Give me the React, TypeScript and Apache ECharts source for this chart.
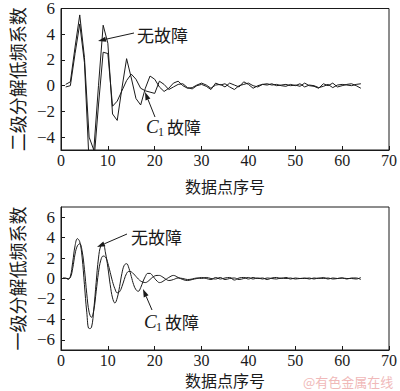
import React, { useEffect, useRef } from "react";
import * as echarts from "echarts";

// ---- data ----
const TOP_X = Array.from({ length: 64 }, (_, i) => i + 1);
const TOP_NO_FAULT = [
  0.1, 0.3, 3.0, 5.5, 2.2, -4.0, -5.0, 0.0, 4.7, 3.3,
  -2.2, -2.7, -0.2, 2.1, 0.6, -1.0, -1.5, -0.2, 0.75, 0.5,
  -0.1, -0.45, -0.2, 0.2, 0.35, 0.0, -0.2, -0.15, 0.05, 0.2,
  0.05, -0.2, 0.05, 0.1, -0.1, 0.2, 0.05, -0.1, 0.3, 0.1,
  -0.2, 0.0, 0.1, 0.05, 0.15, 0.0, 0.05, 0.1, 0.0, 0.05,
  -0.05, 0.2, 0.0, -0.05, -0.2, 0.15, 0.0, 0.2, -0.1, 0.0,
  0.1, 0.15, 0.0, -0.2,
];
const TOP_C1 = [
  -0.1, 0.0, 2.5, 4.8, 1.8, -6.0, -6.0, -1.5, 2.6, 2.5,
  -1.6, -1.2, -0.4, 0.4, 0.9, 0.5, -0.2, -0.4, -0.5, -0.6,
  0.35, 0.1, -0.3, -0.1, 0.1, 0.15, -0.15, -0.25, 0.0, 0.1,
  -0.05, -0.3, 0.2, 0.05, 0.15, -0.1, -0.3, 0.0, 0.1, 0.2,
  0.0, -0.1, 0.1, 0.15, 0.05, 0.1, 0.0, -0.05, 0.1, 0.0,
  0.15, -0.1, 0.05, 0.0, -0.15, -0.05, 0.1, -0.15, 0.05, 0.1,
  0.05, 0.0, 0.1, 0.15,
];

const BOTTOM_X = [
  0.5, 1, 1.5, 2, 2.5, 3, 3.5, 4, 4.5, 5, 5.5, 6, 6.5, 7, 7.5, 8, 8.5, 9, 9.5, 10,
  10.5, 11, 11.5, 12, 12.5, 13, 13.5, 14, 14.5, 15, 15.5, 16, 16.5, 17, 17.5, 18,
  18.5, 19, 19.5, 20, 20.5, 21, 21.5, 22, 22.5,
  23, 24, 25, 26, 27, 28, 29, 30, 31, 32, 33, 34, 35, 36, 37, 38, 39, 40, 41, 42,
  43, 44, 45, 46, 47, 48, 49, 50, 51, 52, 53, 54, 55, 56, 57, 58, 59, 60, 61, 62, 63, 64,
];
const BOTTOM_NO_FAULT = [
  0.0, 0.05, -0.1, 0.2, 1.6, 3.2, 3.9, 3.6, 2.1, -0.6, -3.3, -4.9, -4.8, -3.0, -0.4,
  2.0, 3.2, 3.3, 2.5, 1.1, -0.6, -1.9, -2.4, -1.9, -0.8, 0.5, 1.3, 1.45, 1.0, 0.2,
  -0.6, -1.1, -1.25, -0.9, -0.3, 0.2, 0.5, 0.5, 0.3, 0.0, -0.25, -0.4, -0.35, -0.2, -0.05,
  0.1, 0.3, 0.1, -0.1, -0.2, -0.1, 0.0, 0.1, 0.0, -0.1, 0.1, -0.05, 0.05, 0.1, -0.15,
  0.05, 0.1, -0.05, 0.1, 0.0, 0.05, -0.1, 0.05, 0.1, 0.0, 0.1, -0.05, 0.05, 0.0, 0.05,
  -0.05, 0.05, 0.0, 0.1, -0.05, 0.05, 0.0, 0.05, -0.05, 0.05, 0.05, -0.1,
];
const BOTTOM_C1 = [
  0.1, 0.0, 0.0, 0.1, 1.0, 2.4, 3.2, 3.4, 2.7, 0.9, -1.5, -3.3, -3.8, -3.1, -1.3,
  0.6, 1.8, 2.2, 2.1, 1.5, 0.6, -0.3, -1.0, -1.4, -1.3, -0.8, -0.1, 0.5, 0.7, 0.65,
  0.45, 0.2, -0.05, -0.25, -0.35, -0.4, -0.3, -0.1, 0.1, 0.25, 0.3, 0.3, 0.2, 0.05, -0.1,
  -0.2, -0.1, 0.05, 0.0, -0.1, -0.05, 0.05, 0.0, 0.1, 0.0, -0.05, 0.1, -0.1, 0.0, 0.05,
  -0.1, 0.0, 0.1, -0.05, 0.05, -0.05, 0.05, 0.0, -0.05, 0.05, 0.0, 0.05, -0.05, 0.0, 0.0,
  0.05, -0.05, 0.05, 0.0, 0.05, -0.05, 0.0, 0.05, 0.0, 0.0, -0.05, 0.1,
];

const TOP_Y_TICKS = [-4, -2, 0, 2, 4, 6];
const BOTTOM_Y_TICKS = [-6, -4, -2, 0, 2, 4, 6];
const X_NAME = "数据点序号";
const TOP_Y_NAME = "二级分解低频系数";
const BOTTOM_Y_NAME = "一级分解低频系数";
const LABEL_NO_FAULT = "无故障";
const LABEL_FAULT = "故障";

const INK = "#1a1a1a";
const SERIF = '"Liberation Serif", "Times New Roman", serif';
const CJK = '"Noto Sans CJK SC", sans-serif';

function arrow(x1: number, y1: number, x2: number, y2: number) {
  const dx = x2 - x1;
  const dy = y2 - y1;
  const len = Math.sqrt(dx * dx + dy * dy);
  const ux = dx / len;
  const uy = dy / len;
  const L = 8;
  const W = 2.6;
  const bx = x2 - ux * L;
  const by = y2 - uy * L;
  return [
    {
      type: "line",
      shape: { x1, y1, x2: bx, y2: by },
      style: { stroke: INK, lineWidth: 1 },
      z: 100,
    },
    {
      type: "polygon",
      shape: {
        points: [
          [x2, y2],
          [bx - uy * W, by + ux * W],
          [bx + uy * W, by - ux * W],
        ],
      },
      style: { fill: INK },
      z: 100,
    },
  ];
}

function c1Label(x: number, y: number) {
  return [
    {
      type: "text",
      x,
      y,
      style: {
        text: "C",
        font: `italic 19px ${SERIF}`,
        fill: INK,
        textVerticalAlign: "middle",
      },
      z: 100,
    },
    {
      type: "text",
      x: x + 12,
      y: y + 6,
      style: {
        text: "1",
        font: `12px ${SERIF}`,
        fill: INK,
        textVerticalAlign: "middle",
      },
      z: 100,
    },
    {
      type: "text",
      x: x + 21,
      y,
      style: {
        text: LABEL_FAULT,
        font: `17px ${CJK}`,
        fill: INK,
        textVerticalAlign: "middle",
      },
      z: 100,
    },
  ];
}

function yAxis(gridIndex: number, min: number, max: number, ticks: number[], name: string) {
  return {
    type: "value",
    gridIndex,
    min,
    max,
    axisLine: { show: true, onZero: false, lineStyle: { color: INK, width: 1 } },
    axisTick: { show: true, inside: true, length: 4, customValues: ticks, lineStyle: { color: INK } },
    axisLabel: {
      customValues: ticks,
      formatter: (v: number) => String(v).replace("-", "−"),
      fontFamily: SERIF,
      fontSize: 17,
      color: INK,
      margin: 6,
    },
    splitLine: { show: false },
    name,
    nameLocation: "middle",
    nameRotate: 90,
    nameGap: 35,
    nameTextStyle: { fontFamily: CJK, fontSize: 18, color: INK },
  };
}

function xAxis(gridIndex: number, nameGap: number) {
  return {
    type: "value",
    gridIndex,
    min: 0,
    max: 70,
    interval: 10,
    axisLine: { show: true, onZero: false, lineStyle: { color: INK, width: 1 } },
    axisTick: { show: true, inside: true, length: 4, lineStyle: { color: INK } },
    axisLabel: { fontFamily: SERIF, fontSize: 16, color: INK, margin: 2 },
    splitLine: { show: false },
    name: X_NAME,
    nameLocation: "middle",
    nameGap,
    nameTextStyle: { fontFamily: CJK, fontSize: 16, color: INK },
  };
}

export default function App() {
  const ref = useRef<HTMLDivElement>(null);
  useEffect(() => {
    if (!ref.current) return;
    const chart = echarts.init(ref.current, undefined, { renderer: "svg" });
    const lineStyle = { color: INK, width: 1 };
    chart.setOption({
      animation: false,
      backgroundColor: "#ffffff",
      textStyle: { fontFamily: SERIF },
      grid: [
        { left: 49, top: 6, width: 342, height: 144, show: true, borderColor: INK, borderWidth: 1 },
        { left: 49, top: 207, width: 342, height: 143, show: true, borderColor: INK, borderWidth: 1 },
      ],
      xAxis: [xAxis(0, 28), xAxis(1, 22)],
      yAxis: [
        yAxis(0, -5, 6, TOP_Y_TICKS, TOP_Y_NAME),
        yAxis(1, -7, 7, BOTTOM_Y_TICKS, BOTTOM_Y_NAME),
      ],
      series: [
        {
          type: "line",
          name: LABEL_NO_FAULT,
          xAxisIndex: 0,
          yAxisIndex: 0,
          data: TOP_X.map((x, i) => [x, TOP_NO_FAULT[i]]),
          showSymbol: false,
          lineStyle,
          clip: true,
        },
        {
          type: "line",
          name: "C1" + LABEL_FAULT,
          xAxisIndex: 0,
          yAxisIndex: 0,
          data: TOP_X.map((x, i) => [x, TOP_C1[i]]),
          showSymbol: false,
          lineStyle,
          clip: true,
        },
        {
          type: "line",
          name: LABEL_NO_FAULT + " ",
          xAxisIndex: 1,
          yAxisIndex: 1,
          data: BOTTOM_X.map((x, i) => [x, BOTTOM_NO_FAULT[i]]),
          showSymbol: false,
          smooth: 0.4,
          lineStyle,
          clip: true,
        },
        {
          type: "line",
          name: "C1" + LABEL_FAULT + " ",
          xAxisIndex: 1,
          yAxisIndex: 1,
          data: BOTTOM_X.map((x, i) => [x, BOTTOM_C1[i]]),
          showSymbol: false,
          smooth: 0.4,
          lineStyle,
          clip: true,
        },
      ],
      graphic: [
        {
          type: "text",
          x: 137,
          y: 34,
          style: { text: LABEL_NO_FAULT, font: `17px ${CJK}`, fill: INK, textVerticalAlign: "middle" },
          z: 100,
        },
        ...arrow(134, 33, 98, 41),
        ...c1Label(146, 126),
        ...arrow(155, 117, 145, 92),
        {
          type: "text",
          x: 131,
          y: 236,
          style: { text: LABEL_NO_FAULT, font: `17px ${CJK}`, fill: INK, textVerticalAlign: "middle" },
          z: 100,
        },
        ...arrow(127, 234, 97, 247),
        ...c1Label(144, 321),
        ...arrow(152, 310, 143, 289),
        {
          type: "text",
          x: 303,
          y: 381,
          style: { text: "@有色金属在线", font: `13px ${CJK}`, fill: "#f0b9b9", textVerticalAlign: "middle" },
          z: 100,
        },
      ],
    });
    return () => chart.dispose();
  }, []);
  return (
    <div
      ref={ref}
      style={{ position: "fixed", left: 0, top: 0, width: 400, height: 391, background: "#fff" }}
    />
  );
}
